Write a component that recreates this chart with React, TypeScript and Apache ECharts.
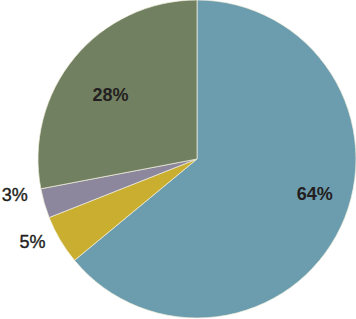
import React, { useEffect, useRef } from "react";
import * as echarts from "echarts";

const categories = ["A", "B", "C", "D"];
const values = [64, 5, 3, 28];
const colors = ["#6c9dae", "#c9ae2f", "#8d879d", "#728062"];
const insideFlags = [true, false, false, true];

export default function App() {
  const ref = useRef<HTMLDivElement>(null);
  useEffect(() => {
    document.body.style.margin = "0";
    const chart = echarts.init(ref.current!, null, { renderer: "svg" });
    const offsets: Record<number, number[]> = { 0: [43, 0], 1: [-3, -3], 2: [-4, -11], 3: [-23, -11] };
    chart.setOption({
      animation: false,
      series: [
        {
          type: "pie",
          center: [197, 159],
          radius: 159,
          startAngle: 90,
          clockwise: true,
          avoidLabelOverlap: false,
          itemStyle: { borderColor: "#f2efdc", borderWidth: 0.7 },
          labelLine: { show: false, length: 10, length2: 0 },
          data: categories.map((c, i) => ({
            name: c,
            value: values[i],
            itemStyle: { color: colors[i] },
            label: insideFlags[i]
              ? {
                  position: "inside",
                  offset: offsets[i],
                  fontWeight: "bold",
                }
              : {
                  position: "outside",
                  offset: offsets[i],
                  fontWeight: "normal",
                  distanceToLabelLine: 3,
                  textBorderColor: "#231f20",
                  textBorderWidth: 0.4,
                },
          })),
          label: {
            formatter: (p: any) => p.value + "%",
            fontFamily: "Liberation Sans, Arial, sans-serif",
            fontSize: 18,
            color: "#231f20",
          },
        },
      ],
    });
    return () => chart.dispose();
  }, []);
  return <div ref={ref} style={{ width: 356, height: 319 }} />;
}
